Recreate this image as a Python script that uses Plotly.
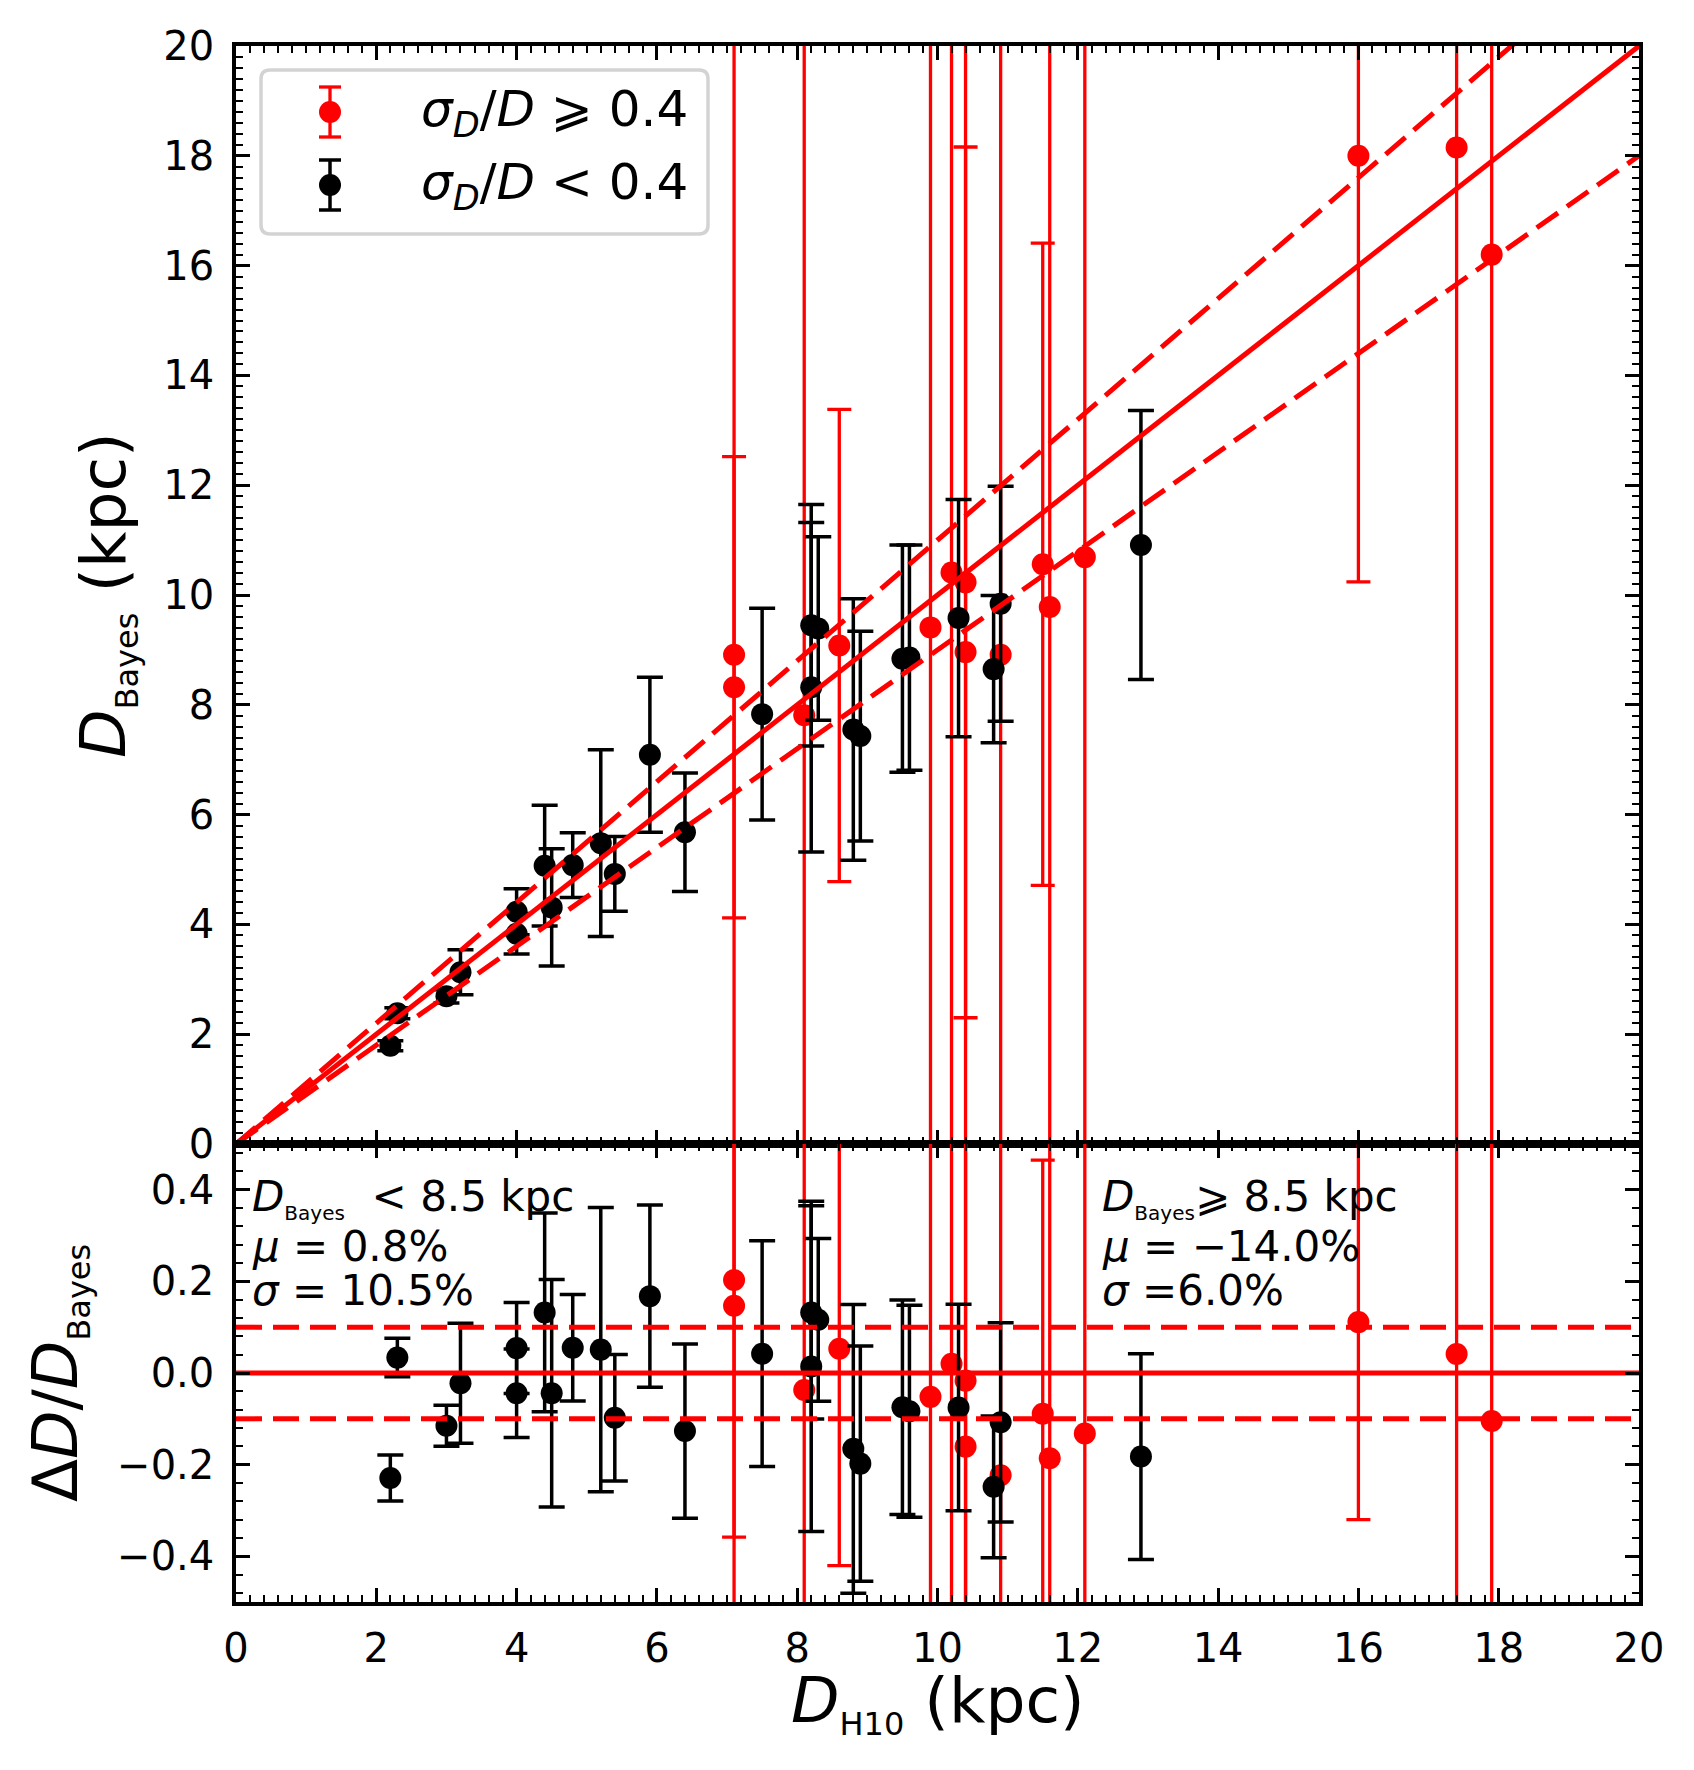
import numpy as np
import plotly.graph_objects as go
from plotly.subplots import make_subplots

# sigma_D/D < 0.4 (black)
black_h10 = [2.2, 2.3, 3.0, 3.2, 4.0, 4.0, 4.4, 4.5, 4.8, 5.2, 5.4, 5.9, 6.4, 7.5,
             8.2, 8.3, 8.2, 8.8, 8.9, 9.5, 9.6, 10.3, 10.8, 10.9, 12.9]
black_bayes = [1.79, 2.38, 2.69, 3.13, 4.23, 3.83, 5.07, 4.31, 5.08, 5.48, 4.92, 7.09, 5.68, 7.83,
               9.45, 9.39, 8.32, 7.55, 7.43, 8.84, 8.86, 9.58, 8.65, 9.84, 10.91]
black_err = [0.09, 0.10, 0.12, 0.41, 0.42, 0.37, 1.10, 1.07, 0.59, 1.70, 0.68, 1.41, 1.08, 1.93,
             2.20, 1.67, 3.00, 2.38, 1.91, 2.07, 2.05, 2.16, 1.34, 2.14, 2.45]

# sigma_D/D >= 0.4 (red)
red_h10 = [7.1, 7.1, 8.1, 8.6, 9.9, 10.2, 10.4, 10.4, 10.9, 11.5, 11.6, 12.1, 16.0, 17.4, 17.9]
red_bayes = [8.91, 8.32, 7.81, 9.08, 9.41, 10.41, 10.23, 8.96, 8.91, 10.56, 9.78, 10.69, 18.0, 18.15, 16.2]
red_err = [12.0, 4.2, 12.5, 4.3, 11.0, 10.5, 7.93, 11.5, 11.5, 5.85, 10.5, 11.0, 7.76, 18.5, 17.0]

# one-to-one line and +-10% lines
line_x = [0, 20]
line_slopes = [1.0, 1.1, 0.9]
resid_levels = [0.0, 0.1, -0.1]

x_ticks = list(range(0, 21, 2))

FONT = "DejaVu Sans"
W, H = 1694, 1770
L, R, T, B = 236, 55, 46, 168
PW, PH = W - L - R, H - T - B
MAIN_BOTTOM = 1144
DASH = "26px,11px"


def pxx(p):
    return (p - L) / PW


def pxy(p):
    return (H - B - p) / PH


def resid(xs, ys, es):
    xs, ys, es = np.array(xs), np.array(ys), np.array(es)
    return (ys - xs) / ys, es / ys


br, bre = resid(black_h10, black_bayes, black_err)
rr, rre = resid(red_h10, red_bayes, red_err)

main_frac = (MAIN_BOTTOM - T) / PH
fig = make_subplots(rows=2, cols=1, shared_xaxes=True, vertical_spacing=0,
                    row_heights=[main_frac, 1 - main_frac])

RED, BLACK = "#ff0000", "#000000"

for row, (ry_, rerr_, by_, berr_) in enumerate(
        [(red_bayes, red_err, black_bayes, black_err), (rr, rre, br, bre)], start=1):
    fig.add_trace(go.Scatter(
        x=red_h10, y=ry_, mode="markers",
        marker=dict(color=RED, size=22, line=dict(width=0)),
        error_y=dict(type="data", array=list(rerr_), color=RED, thickness=3.3, width=12),
        showlegend=False), row=row, col=1)
    fig.add_trace(go.Scatter(
        x=black_h10, y=by_, mode="markers",
        marker=dict(color=BLACK, size=22, line=dict(width=0)),
        error_y=dict(type="data", array=list(berr_), color=BLACK, thickness=3.5, width=13),
        showlegend=False), row=row, col=1)

for k in line_slopes:
    fig.add_trace(go.Scatter(
        x=line_x, y=[k * v for v in line_x], mode="lines",
        line=dict(color=RED, width=5, dash="solid" if k == 1.0 else DASH),
        showlegend=False, hoverinfo="skip"), row=1, col=1)

for lev in resid_levels:
    fig.add_trace(go.Scatter(
        x=line_x, y=[lev, lev], mode="lines",
        line=dict(color=RED, width=5, dash="solid" if lev == 0 else DASH),
        showlegend=False, hoverinfo="skip"), row=2, col=1)

axis_common = dict(
    showline=True, linecolor="black", linewidth=3.5, mirror="allticks",
    ticks="inside", ticklen=14, tickwidth=2.5, tickcolor="black",
    showgrid=False, zeroline=False,
    tickfont=dict(family=FONT, size=40, color="black"),
)

fig.update_xaxes(range=[0, 20], tickvals=x_ticks, **axis_common,
                 minor=dict(ticks="inside", ticklen=7, tickwidth=2, dtick=0.2, tickcolor="black"))
fig.update_xaxes(showticklabels=False, row=1, col=1)
fig.update_xaxes(showticklabels=True, ticklabelstandoff=8, row=2, col=1)
fig.update_yaxes(range=[0, 20], dtick=2, tick0=0, ticklabelstandoff=10, **axis_common,
                 minor=dict(ticks="inside", ticklen=7, tickwidth=2, dtick=0.2, tickcolor="black"),
                 row=1, col=1)
fig.update_yaxes(range=[-0.5, 0.5], dtick=0.2, tick0=0, tickformat=".1f", ticklabelstandoff=10,
                 **axis_common,
                 minor=dict(ticks="inside", ticklen=7, tickwidth=2, dtick=0.04, tickcolor="black"),
                 row=2, col=1)

annots = []
# axis titles
annots.append(dict(
    text="<i>D</i><sub><span style='font-size:32px'>Bayes</span></sub> (kpc)",
    x=pxx(106), y=pxy((T + MAIN_BOTTOM) / 2), xref="paper", yref="paper", textangle=-90,
    showarrow=False, font=dict(family=FONT, size=63, color="black"),
    xanchor="center", yanchor="middle"))
annots.append(dict(
    text="Δ<i>D</i>/<i>D</i><sub><span style='font-size:32px'>Bayes</span></sub>",
    x=pxx(58), y=pxy((MAIN_BOTTOM + H - B) / 2), xref="paper", yref="paper", textangle=-90,
    showarrow=False, font=dict(family=FONT, size=63, color="black"),
    xanchor="center", yanchor="middle"))
annots.append(dict(
    text="<i>D</i><sub><span style='font-size:32px'>H10</span></sub> (kpc)",
    x=pxx((L + W - R) / 2), y=pxy(1703), xref="paper", yref="paper",
    showarrow=False, font=dict(family=FONT, size=63, color="black"),
    xanchor="center", yanchor="middle"))

# residual statistics
left_lines = ["<i>D</i><sub><span style='font-size:20px'>Bayes</span></sub>  < 8.5 kpc",
              "<i>μ</i> = 0.8%", "<i>σ</i> = 10.5%"]
right_lines = ["<i>D</i><sub><span style='font-size:20px'>Bayes</span></sub>⩾ 8.5 kpc",
               "<i>μ</i> = −14.0%", "<i>σ</i> =6.0%"]
line_ys = [1198, 1246, 1290]
for lines, xp in [(left_lines, 250), (right_lines, 1100)]:
    for txt, yp in zip(lines, line_ys):
        annots.append(dict(text=txt, x=pxx(xp), y=pxy(yp), xref="paper", yref="paper",
                           showarrow=False, xanchor="left", yanchor="middle",
                           font=dict(family=FONT, size=42, color="black")))

# legend
shapes = []
x0, x1, y0, y1 = pxx(261), pxx(708), pxy(234), pxy(70)
rx, ry = 9 / PW, 9 / PH
path = (f"M {x0 + rx},{y1} L {x1 - rx},{y1} Q {x1},{y1} {x1},{y1 - ry} "
        f"L {x1},{y0 + ry} Q {x1},{y0} {x1 - rx},{y0} L {x0 + rx},{y0} "
        f"Q {x0},{y0} {x0},{y0 + ry} L {x0},{y1 - ry} Q {x0},{y1} {x0 + rx},{y1} Z")
shapes.append(dict(type="path", path=path, xref="paper", yref="paper",
                   fillcolor="rgba(255,255,255,0.8)", line=dict(color="#d3d3d3", width=3.5),
                   layer="above"))
legend_items = [(RED, 112, 3.3, "<i>σ<sub>D</sub></i>/<i>D</i> ⩾ 0.4"),
                (BLACK, 185, 3.5, "<i>σ<sub>D</sub></i>/<i>D</i> < 0.4")]
mx = 330
for col, yc, lw, label in legend_items:
    shapes.append(dict(type="line", xref="paper", yref="paper", x0=pxx(mx), x1=pxx(mx),
                       y0=pxy(yc - 25), y1=pxy(yc + 25), line=dict(color=col, width=lw), layer="above"))
    for dy in (-25, 25):
        shapes.append(dict(type="line", xref="paper", yref="paper", x0=pxx(mx - 11), x1=pxx(mx + 11),
                           y0=pxy(yc + dy), y1=pxy(yc + dy), line=dict(color=col, width=lw), layer="above"))
    shapes.append(dict(type="circle", xref="paper", yref="paper", x0=pxx(mx - 11), x1=pxx(mx + 11),
                       y0=pxy(yc + 11), y1=pxy(yc - 11), fillcolor=col, line=dict(width=0),
                       layer="above"))
    annots.append(dict(text=label, x=pxx(419), y=pxy(yc), xref="paper", yref="paper",
                       showarrow=False, xanchor="left", yanchor="middle",
                       font=dict(family=FONT, size=50, color="black")))

fig.update_layout(
    width=W, height=H,
    margin=dict(l=L, r=R, t=T, b=B),
    paper_bgcolor="white", plot_bgcolor="white",
    font=dict(family=FONT, color="black"),
    showlegend=False,
    annotations=annots, shapes=shapes,
)

fig.write_html("out.html", config={"displayModeBar": False},
               post_script="document.body.style.margin='0';")
